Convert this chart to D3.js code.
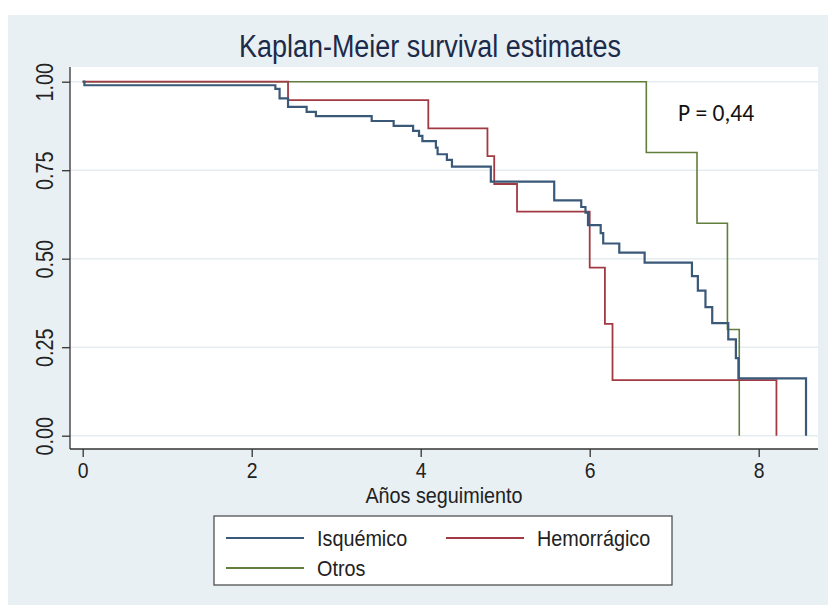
<!DOCTYPE html>
<html>
<head>
<meta charset="utf-8">
<script src="https://cdn.jsdelivr.net/npm/d3@7"></script>
<style>
  html, body { margin: 0; padding: 0; background: #ffffff; }
  svg { display: block; }
  .lbl { font-family: "Liberation Sans", Arial, Helvetica, sans-serif; }
</style>
</head>
<body>
<svg id="chart" width="828" height="607"></svg>
<script>
// Kaplan-Meier step estimates: each entry is [time (years), survival] at a change point
const isquemico = [
  [0, 1], [0.02, 0.99], [2.28, 0.98], [2.33, 0.953], [2.43, 0.929], [2.65, 0.915],
  [2.76, 0.903], [3.42, 0.889], [3.68, 0.875], [3.91, 0.861], [3.98, 0.847],
  [4.02, 0.832], [4.18, 0.814], [4.20, 0.795], [4.31, 0.779], [4.37, 0.760],
  [4.83, 0.718], [5.58, 0.665], [5.90, 0.646], [5.95, 0.630], [5.98, 0.595],
  [6.13, 0.572], [6.16, 0.543], [6.35, 0.517], [6.65, 0.489], [7.21, 0.451],
  [7.28, 0.410], [7.37, 0.363], [7.45, 0.318], [7.64, 0.272], [7.73, 0.219],
  [7.76, 0.162], [8.56, 0]
];
const hemorragico = [
  [0, 1], [2.43, 0.948], [4.09, 0.868], [4.79, 0.790], [4.87, 0.711],
  [5.14, 0.633], [6.00, 0.475], [6.18, 0.316], [6.27, 0.157], [8.21, 0]
];
const otros = [
  [0, 1], [6.67, 0.80], [7.27, 0.60], [7.63, 0.30], [7.77, 0]
];

const seriesNames = ["Isquémico", "Hemorrágico", "Otros"];
const seriesColors = ["#3a5878", "#a23a44", "#617e3c"];
const xTicks = [0, 2, 4, 6, 8];
const yTicks = [0, 0.25, 0.5, 0.75, 1];
const yTickLabels = ["0.00", "0.25", "0.50", "0.75", "1.00"];
const titleText = "Kaplan-Meier survival estimates";
const xTitle = "Años seguimiento";
const pValueText = "P = 0,44";

const svg = d3.select("#chart");

// outer graph region and inner plot region
const region = { x: 8, y: 15, w: 820, h: 590 };
const plot = { left: 70, top: 67, right: 818, bottom: 449 };

const x = d3.scaleLinear().domain([0, 8]).range([82.7, 758.7]);
const y = d3.scaleLinear().domain([0, 1]).range([435.7, 81.7]);

// condensed text: place at (tx, ty) and squeeze horizontally
function placeText(sel, tx, ty, sx, extra) {
  sel.attr("x", 0).attr("y", 0)
    .attr("transform", `translate(${tx},${ty})${extra || ""} scale(${sx},1)`);
}

svg.append("rect")
  .attr("x", region.x).attr("y", region.y)
  .attr("width", region.w).attr("height", region.h)
  .attr("fill", "#e9f0f3");

svg.append("rect")
  .attr("x", plot.left).attr("y", plot.top)
  .attr("width", plot.right - plot.left).attr("height", plot.bottom - plot.top)
  .attr("fill", "#ffffff");

// horizontal grid lines
svg.append("g")
  .selectAll("line")
  .data(yTicks)
  .join("line")
  .attr("x1", plot.left).attr("x2", plot.right)
  .attr("y1", d => y(d)).attr("y2", d => y(d))
  .attr("stroke", "#e6edf0")
  .attr("stroke-width", 1.5);

// survival curves
const line = d3.line()
  .x(d => x(d[0]))
  .y(d => y(d[1]))
  .curve(d3.curveStepAfter);

const curves = [isquemico, hemorragico, otros];
const widths = [2.2, 1.8, 1.6];
// draw in reverse so the first series sits on top
[2, 1, 0].forEach(i => {
  svg.append("path")
    .datum(curves[i])
    .attr("d", line)
    .attr("fill", "none")
    .attr("stroke", seriesColors[i])
    .attr("stroke-width", widths[i])
    .attr("stroke-linejoin", "miter");
});

// y axis
const yAxis = d3.axisLeft(y)
  .tickValues(yTicks)
  .tickSize(8)
  .tickFormat((d, i) => yTickLabels[i]);
const gy = svg.append("g")
  .attr("transform", `translate(${plot.left},0)`)
  .call(yAxis);
gy.select(".domain").attr("d", `M0,${plot.top}V${plot.bottom}`)
  .attr("stroke", "#333").attr("stroke-width", 1.3);
gy.selectAll(".tick line").attr("stroke", "#333").attr("stroke-width", 1.3);
gy.selectAll(".tick text")
  .attr("class", "lbl")
  .attr("font-size", 23)
  .attr("fill", "#222")
  .attr("dy", null)
  .attr("text-anchor", "middle")
  .each(function () { placeText(d3.select(this), -17, 0, 0.86, " rotate(-90)"); });

// x axis
const xAxis = d3.axisBottom(x)
  .tickValues(xTicks)
  .tickSize(8)
  .tickFormat(d3.format("d"));
const gx = svg.append("g")
  .attr("transform", `translate(0,${plot.bottom})`)
  .call(xAxis);
gx.select(".domain").attr("d", `M${plot.left},0H${plot.right}`)
  .attr("stroke", "#333").attr("stroke-width", 1.3);
gx.selectAll(".tick line").attr("stroke", "#333").attr("stroke-width", 1.3);
gx.selectAll(".tick text")
  .attr("class", "lbl")
  .attr("font-size", 22)
  .attr("fill", "#222")
  .attr("dy", null)
  .each(function () { placeText(d3.select(this), 0, 29, 0.88); });

// titles
svg.append("text")
  .attr("class", "lbl")
  .attr("text-anchor", "middle")
  .attr("font-size", 31)
  .attr("fill", "#1c2b4a")
  .text(titleText)
  .call(placeText, 430, 57, 0.87);

svg.append("text")
  .attr("class", "lbl")
  .attr("text-anchor", "middle")
  .attr("font-size", 22)
  .attr("fill", "#222")
  .text(xTitle)
  .call(placeText, 444, 503, 0.9);

// p-value annotation
svg.append("text")
  .attr("x", 678).attr("y", 121)
  .attr("font-family", "Carlito, Lato, 'Open Sans', sans-serif")
  .attr("font-size", 23.5)
  .attr("fill", "#111")
  .text(pValueText);

// legend
const legend = svg.append("g");
legend.append("rect")
  .attr("x", 214).attr("y", 516)
  .attr("width", 458).attr("height", 69)
  .attr("fill", "#ffffff")
  .attr("stroke", "#444").attr("stroke-width", 1.2);

const legendPos = [
  { lx: 226, ly: 538 },
  { lx: 446, ly: 538 },
  { lx: 226, ly: 568 }
];
seriesNames.forEach((name, i) => {
  const p = legendPos[i];
  legend.append("line")
    .attr("x1", p.lx).attr("x2", p.lx + 78)
    .attr("y1", p.ly).attr("y2", p.ly)
    .attr("stroke", seriesColors[i]).attr("stroke-width", 2);
  legend.append("text")
    .attr("class", "lbl")
    .attr("font-size", 22)
    .attr("fill", "#222")
    .text(name)
    .call(placeText, p.lx + 91, p.ly + 8, 0.9);
});
</script>
</body>
</html>
